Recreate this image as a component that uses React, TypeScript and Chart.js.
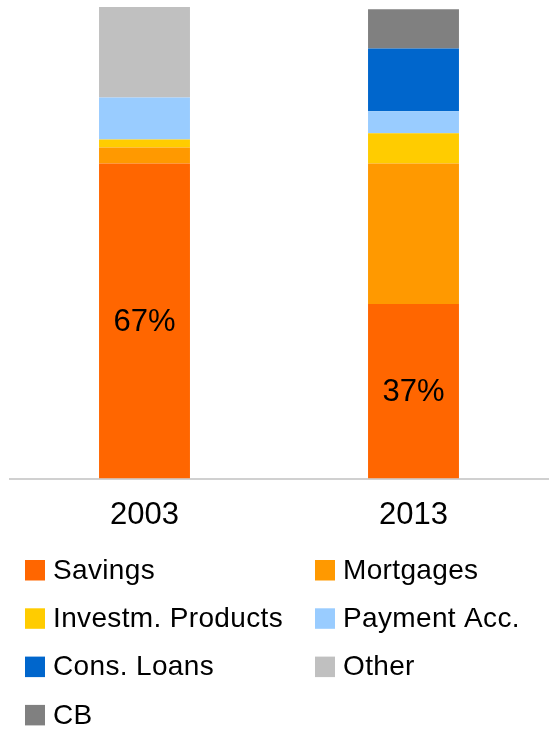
import React, { useEffect, useRef } from 'react';
import { Chart, registerables } from 'chart.js';

Chart.register(...registerables);

const categories = ['2003', '2013'];
const seriesNames = ['Savings', 'Mortgages', 'Investm. Products', 'Payment Acc.', 'Cons. Loans', 'Other', 'CB'];
const seriesColors = ['#FF6600', '#FF9900', '#FFCC00', '#99CCFF', '#0066CC', '#C0C0C0', '#808080'];
const savings = [66.8, 37.0];
const mortgages = [3.4, 29.8];
const investmProducts = [1.7, 6.4];
const paymentAcc = [8.9, 4.7];
const consLoans = [0, 13.3];
const other = [19.2, 0];
const cb = [0, 8.3];
const seriesValues = [savings, mortgages, investmProducts, paymentAcc, consLoans, other, cb];
const labelledSeries = 0;

const FONT = '"Liberation Sans", Arial, sans-serif';

const dataLabelPlugin = {
  id: 'segLabels',
  afterDatasetsDraw(chart: any) {
    const ctx = chart.ctx;
    const meta = chart.getDatasetMeta(labelledSeries);
    const data = chart.data.datasets[labelledSeries].data;
    ctx.save();
    ctx.font = `31px ${FONT}`;
    ctx.fillStyle = '#000000';
    ctx.textAlign = 'center';
    ctx.textBaseline = 'middle';
    meta.data.forEach((bar: any, i: number) => {
      const p = bar.getProps(['x', 'y', 'base'], true);
      ctx.fillText(Math.round(data[i]) + '%', p.x, (p.y + p.base) / 2 + 1);
    });
    ctx.restore();
  },
};

const legendPlugin = {
  id: 'gridLegend',
  afterDraw(chart: any) {
    const ctx = chart.ctx;
    ctx.save();
    ctx.font = `28px ${FONT}`;
    try { (ctx as any).letterSpacing = '0.35px'; } catch (e) { /* ignore */ }
    ctx.textAlign = 'left';
    ctx.textBaseline = 'middle';
    chart.data.datasets.forEach((ds: any, i: number) => {
      const col = i % 2;
      const row = Math.floor(i / 2);
      const x = 25 + col * 290;
      const y = 560 + row * 48.3;
      ctx.fillStyle = ds.backgroundColor;
      ctx.fillRect(x, y, 20, 20.5);
      ctx.fillStyle = '#000000';
      ctx.fillText(ds.label, x + 28, y + 11);
    });
    ctx.restore();
  },
};

export default function App() {
  const ref = useRef<HTMLCanvasElement | null>(null);
  useEffect(() => {
    if (!ref.current) return;
    const chart = new Chart(ref.current, {
      type: 'bar',
      data: {
        labels: categories,
        datasets: seriesNames.map((name, i) => ({
          label: name,
          data: seriesValues[i],
          backgroundColor: seriesColors[i],
          borderWidth: 0,
          categoryPercentage: 1,
          barPercentage: 0.338,
        })),
      },
      options: {
        responsive: false,
        animation: false,
        layout: { padding: { left: 10, right: 6, top: 7, bottom: 0 } },
        plugins: {
          legend: { display: false },
          tooltip: { enabled: false },
        },
        scales: {
          x: {
            stacked: true,
            grid: { display: false },
            border: { display: true, color: '#D0D0D0', width: 2 },
            ticks: { color: '#000000', font: { family: FONT, size: 31 }, padding: 10 },
            afterFit: (scale: any) => {
              scale.height = 251.5;
            },
          },
          y: {
            stacked: true,
            display: false,
            min: 0,
            max: 100,
          },
        },
      },
      plugins: [dataLabelPlugin, legendPlugin],
    });
    return () => chart.destroy();
  }, []);
  return (
    <div style={{ position: 'absolute', left: 0, top: 0, width: 554, height: 730, background: '#fff' }}>
      <canvas ref={ref} width={554} height={730} style={{ width: 554, height: 730, display: 'block' }} />
    </div>
  );
}
